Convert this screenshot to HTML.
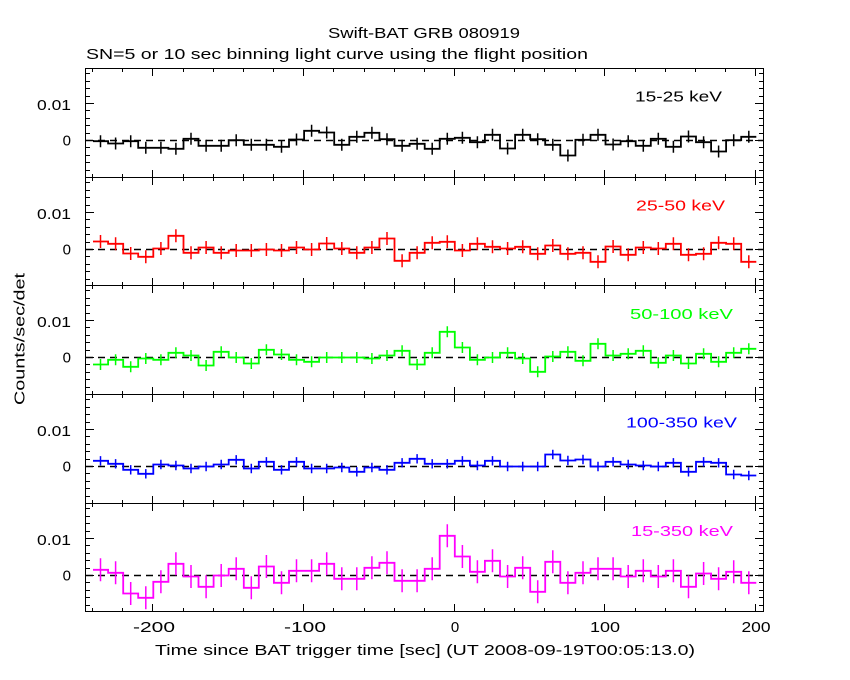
<!DOCTYPE html>
<html>
<head>
<meta charset="utf-8">
<style>
html,body{margin:0;padding:0;background:#fff;}
svg{display:block;}
text{font-family:"Liberation Sans",Arial,sans-serif;font-size:15px;fill:#000;}
</style>
</head>
<body>
<svg width="850" height="680" viewBox="0 0 850 680" xmlns="http://www.w3.org/2000/svg" xmlns:xlink="http://www.w3.org/1999/xlink">
<rect x="0" y="0" width="850" height="680" fill="#fff"/>
<defs>
<path id="tt" d="M92.5,0v4M122.5,0v4M152.5,0v8M183.5,0v4M213.5,0v4M243.5,0v4M273.5,0v4M303.5,0v8M333.5,0v4M364.5,0v4M394.5,0v4M424.5,0v4M454.5,0v8M484.5,0v4M514.5,0v4M544.5,0v4M575.5,0v4M604.5,0v8M635.5,0v4M665.5,0v4M695.5,0v4M725.5,0v4M755.5,0v8" stroke="#000" stroke-width="1" fill="none"/>
<path id="bt" d="M92.5,0v-4M122.5,0v-4M152.5,0v-8M183.5,0v-4M213.5,0v-4M243.5,0v-4M273.5,0v-4M303.5,0v-8M333.5,0v-4M364.5,0v-4M394.5,0v-4M424.5,0v-4M454.5,0v-8M484.5,0v-4M514.5,0v-4M544.5,0v-4M575.5,0v-4M604.5,0v-8M635.5,0v-4M665.5,0v-4M695.5,0v-4M725.5,0v-4M755.5,0v-8" stroke="#000" stroke-width="1" fill="none"/>
<path id="yt" d="M85,5.5h5M85,13.5h5M85,20.5h5M85,28.5h5M85,35.5h9M85,42.5h5M85,50.5h5M85,57.5h5M85,65.5h5M85,72.5h9M85,79.5h5M85,87.5h5M85,94.5h5M85,102.5h5M764,5.5h-5M764,13.5h-5M764,20.5h-5M764,28.5h-5M764,35.5h-9M764,42.5h-5M764,50.5h-5M764,57.5h-5M764,65.5h-5M764,72.5h-9M764,79.5h-5M764,87.5h-5M764,94.5h-5M764,102.5h-5" stroke="#000" stroke-width="1" fill="none"/>
</defs>

<!-- frame -->
<g shape-rendering="crispEdges">
<path d="M85.5,68.5H763.5V611.5H85.5Z M85.5,177.5H763.5 M85.5,285.5H763.5 M85.5,394.5H763.5 M85.5,503.5H763.5" stroke="#000" stroke-width="1" fill="none"/>
<use href="#tt" xlink:href="#tt" y="68"/>
<use href="#tt" xlink:href="#tt" y="177"/>
<use href="#tt" xlink:href="#tt" y="285"/>
<use href="#tt" xlink:href="#tt" y="394"/>
<use href="#tt" xlink:href="#tt" y="503"/>
<use href="#bt" xlink:href="#bt" y="178"/>
<use href="#bt" xlink:href="#bt" y="286"/>
<use href="#bt" xlink:href="#bt" y="395"/>
<use href="#bt" xlink:href="#bt" y="504"/>
<use href="#bt" xlink:href="#bt" y="612"/>
<use href="#yt" xlink:href="#yt" y="68"/>
<use href="#yt" xlink:href="#yt" y="177"/>
<use href="#yt" xlink:href="#yt" y="285"/>
<use href="#yt" xlink:href="#yt" y="394"/>
<use href="#yt" xlink:href="#yt" y="503"/>
</g>

<!-- titles -->
<text x="424" y="38" text-anchor="middle" textLength="192" lengthAdjust="spacingAndGlyphs">Swift-BAT GRB 080919</text>
<text x="86" y="59" textLength="502" lengthAdjust="spacingAndGlyphs">SN=5 or 10 sec binning light curve using the flight position</text>

<!-- y tick labels -->
<text x="71" y="110" text-anchor="end" textLength="34" lengthAdjust="spacingAndGlyphs">0.01</text>
<text x="71" y="145.5" text-anchor="end">0</text>
<text x="71" y="219" text-anchor="end" textLength="34" lengthAdjust="spacingAndGlyphs">0.01</text>
<text x="71" y="254.5" text-anchor="end">0</text>
<text x="71" y="327" text-anchor="end" textLength="34" lengthAdjust="spacingAndGlyphs">0.01</text>
<text x="71" y="362.5" text-anchor="end">0</text>
<text x="71" y="436" text-anchor="end" textLength="34" lengthAdjust="spacingAndGlyphs">0.01</text>
<text x="71" y="471.5" text-anchor="end">0</text>
<text x="71" y="545" text-anchor="end" textLength="34" lengthAdjust="spacingAndGlyphs">0.01</text>
<text x="71" y="580.5" text-anchor="end">0</text>

<!-- x tick labels -->
<text x="154" y="632" text-anchor="middle" textLength="42" lengthAdjust="spacingAndGlyphs">-200</text>
<text x="305" y="632" text-anchor="middle" textLength="42" lengthAdjust="spacingAndGlyphs">-100</text>
<text x="455" y="632" text-anchor="middle">0</text>
<text x="605" y="632" text-anchor="middle" textLength="30" lengthAdjust="spacingAndGlyphs">100</text>
<text x="756" y="632" text-anchor="middle" textLength="29" lengthAdjust="spacingAndGlyphs">200</text>

<text x="155" y="655" textLength="540" lengthAdjust="spacingAndGlyphs">Time since BAT trigger time [sec] (UT 2008-09-19T00:05:13.0)</text>
<text transform="translate(24.5,339) rotate(-90)" x="0" y="0" text-anchor="middle" textLength="132" lengthAdjust="spacingAndGlyphs">Counts/sec/det</text>

<!-- band labels -->
<text x="635" y="101.5" textLength="87" lengthAdjust="spacingAndGlyphs">15-25 keV</text>
<text x="636" y="210.5" textLength="89" lengthAdjust="spacingAndGlyphs" style="fill:#ff0000">25-50 keV</text>
<text x="630" y="319" textLength="103" lengthAdjust="spacingAndGlyphs" style="fill:#00ff00">50-100 keV</text>
<text x="626" y="427.5" textLength="111" lengthAdjust="spacingAndGlyphs" style="fill:#0000ff">100-350 keV</text>
<text x="631" y="536" textLength="102" lengthAdjust="spacingAndGlyphs" style="fill:#ff00ff">15-350 keV</text>

<!-- dashed zero lines -->
<g stroke="#000" stroke-width="1.5" stroke-dasharray="7 5" fill="none">
<path d="M86,140.5H763"/>
<path d="M86,249.5H763"/>
<path d="M86,357.5H763"/>
<path d="M86,466.5H763"/>
<path d="M86,575.5H763"/>
</g>

<!-- panel 1: 15-25 keV -->
<g transform="translate(0,140.5) scale(1,-1)" stroke="#000" stroke-width="1.8" fill="none">
<path d="M93,-0.7H108.1V-3H123.2V-0.7H138.2V-7.3H153.3V-7.3H168.4V-8.3H183.5V1.7H198.5V-5.3H213.6V-5.3H228.7V0.3H243.8V-4.3H258.8V-4.3H273.9V-6.3H289V1H304.1V9.7H319.1V8H334.2V-4.3H349.3V3.7H364.4V7.7H379.4V1.3H394.5V-5.3H409.6V-3.3H424.7V-8.3H439.7V1.7H454.8V2.7H469.9V-1.7H484.9V5.7H500V-8H515.1V5.7H530.2V1.3H545.2V-4.3H560.3V-15H575.4V0.7H590.5V5.7H605.5V-4H620.6V-0.7H635.7V-5.3H650.8V1.7H665.8V-6.3H680.9V4H696V-1.7H711.1V-11H726.1V0.3H741.2V3.7H756.3"/>
<path stroke-width="1.5" d="M100.5,-6.7v12M115.6,-9v12M130.7,-6.7v12M145.8,-13.3v12M160.9,-13.3v12M175.9,-14.3v12M191,-4.3v12M206.1,-11.3v12M221.2,-11.3v12M236.2,-5.7v12M251.3,-10.3v12M266.4,-10.3v12M281.5,-12.3v12M296.5,-5v12M311.6,3.7v12M326.7,2v12M341.8,-10.3v12M356.8,-2.3v12M371.9,1.7v12M387,-4.7v12M402.1,-11.3v12M417.1,-9.3v12M432.2,-14.3v12M447.3,-4.3v12M462.4,-3.3v12M477.4,-7.7v12M492.5,-0.3v12M507.6,-14v12M522.7,-0.3v12M537.7,-4.7v12M552.8,-10.3v12M567.9,-21v12M583,-5.3v12M598,-0.3v12M613.1,-10v12M628.2,-6.7v12M643.3,-11.3v12M658.3,-4.3v12M673.4,-12.3v12M688.5,-2v12M703.6,-7.7v12M718.6,-17v12M733.7,-5.7v12M748.8,-2.3v12"/>
</g>

<!-- panel 2: 25-50 keV -->
<g transform="translate(0,249.5) scale(1,-1)" stroke="#ff0000" stroke-width="1.8" fill="none">
<path d="M93,8H108.1V5.7H123.2V-4H138.2V-7.3H153.3V1H168.4V13.7H183.5V-3.3H198.5V2H213.6V-3.3H228.7V-1H243.8V-1H258.8V0H273.9V-1H289V2H304.1V0H319.1V6H334.2V1H349.3V-3.3H364.4V2H379.4V11H394.5V-11.3H409.6V-3.3H424.7V6.7H439.7V7.7H454.8V-1H469.9V5.7H484.9V2.7H500V1H515.1V2.7H530.2V-4.3H545.2V4H560.3V-4.3H575.4V-3.3H590.5V-12.3H605.5V3H620.6V-5.3H635.7V2H650.8V1H665.8V5.7H680.9V-5.3H696V-4.3H711.1V6.7H726.1V5.7H741.2V-12.3H756.3"/>
<path stroke-width="1.5" d="M100.5,1.5v13M115.6,-0.8v13M130.7,-10.5v13M145.8,-13.8v13M160.9,-5.5v13M175.9,7.2v13M191,-9.8v13M206.1,-4.5v13M221.2,-9.8v13M236.2,-7.5v13M251.3,-7.5v13M266.4,-6.5v13M281.5,-7.5v13M296.5,-4.5v13M311.6,-6.5v13M326.7,-0.5v13M341.8,-5.5v13M356.8,-9.8v13M371.9,-4.5v13M387,4.5v13M402.1,-17.8v13M417.1,-9.8v13M432.2,0.2v13M447.3,1.2v13M462.4,-7.5v13M477.4,-0.8v13M492.5,-3.8v13M507.6,-5.5v13M522.7,-3.8v13M537.7,-10.8v13M552.8,-2.5v13M567.9,-10.8v13M583,-9.8v13M598,-18.8v13M613.1,-3.5v13M628.2,-11.8v13M643.3,-4.5v13M658.3,-5.5v13M673.4,-0.8v13M688.5,-11.8v13M703.6,-10.8v13M718.6,0.2v13M733.7,-0.8v13M748.8,-18.8v13"/>
</g>

<!-- panel 3: 50-100 keV -->
<g transform="translate(0,357.5) scale(1,-1)" stroke="#00ff00" stroke-width="1.8" fill="none">
<path d="M93,-7H108.1V-2.3H123.2V-9.3H138.2V-1H153.3V-2.3H168.4V4.7H183.5V2H198.5V-8H213.6V5.7H228.7V0H243.8V-6H258.8V7.7H273.9V3H289V-2.3H304.1V-4.3H319.1V0H334.2V0H349.3V0H364.4V-1H379.4V2H394.5V6.7H409.6V-7H424.7V4.7H439.7V25.7H454.8V10H469.9V-2.3H484.9V0H500V4.7H515.1V-1H530.2V-14.3H545.2V1H560.3V5.7H575.4V-3.3H590.5V13.7H605.5V2H620.6V3.7H635.7V6.7H650.8V-5.3H665.8V2H680.9V-6H696V3.7H711.1V-4.3H726.1V4.7H741.2V8.7H756.3"/>
<path stroke-width="1.5" d="M100.5,-12.5v11M115.6,-7.8v11M130.7,-14.8v11M145.8,-6.5v11M160.9,-7.8v11M175.9,-0.8v11M191,-3.5v11M206.1,-13.5v11M221.2,0.2v11M236.2,-5.5v11M251.3,-11.5v11M266.4,2.2v11M281.5,-2.5v11M296.5,-7.8v11M311.6,-9.8v11M326.7,-5.5v11M341.8,-5.5v11M356.8,-5.5v11M371.9,-6.5v11M387,-3.5v11M402.1,1.2v11M417.1,-12.5v11M432.2,-0.8v11M447.3,20.2v11M462.4,4.5v11M477.4,-7.8v11M492.5,-5.5v11M507.6,-0.8v11M522.7,-6.5v11M537.7,-19.8v11M552.8,-4.5v11M567.9,0.2v11M583,-8.8v11M598,8.2v11M613.1,-3.5v11M628.2,-1.8v11M643.3,1.2v11M658.3,-10.8v11M673.4,-3.5v11M688.5,-11.5v11M703.6,-1.8v11M718.6,-9.8v11M733.7,-0.8v11M748.8,3.2v11"/>
</g>

<!-- panel 4: 100-350 keV -->
<g transform="translate(0,466.5) scale(1,-1)" stroke="#0000ff" stroke-width="1.8" fill="none">
<path d="M93,5.7H108.1V2.7H123.2V-3.3H138.2V-7.3H153.3V2H168.4V1H183.5V-2H198.5V0H213.6V2H228.7V6.7H243.8V-2H258.8V4.7H273.9V-3.3H289V4.7H304.1V-2H319.1V-2H334.2V-1H349.3V-5.3H364.4V-1H379.4V-3.3H394.5V3.7H409.6V7.7H424.7V2.7H439.7V2.7H454.8V5.7H469.9V1H484.9V5.7H500V0H515.1V0H530.2V0H545.2V12H560.3V6H575.4V7H590.5V0H605.5V4.7H620.6V2H635.7V1H650.8V0H665.8V3.7H680.9V-5.3H696V4.7H711.1V3.7H726.1V-8H741.2V-9H756.3"/>
<path stroke-width="1.5" d="M100.5,1v9.4M115.6,-2v9.4M130.7,-8v9.4M145.8,-12v9.4M160.9,-2.7v9.4M175.9,-3.7v9.4M191,-6.7v9.4M206.1,-4.7v9.4M221.2,-2.7v9.4M236.2,2v9.4M251.3,-6.7v9.4M266.4,0v9.4M281.5,-8v9.4M296.5,0v9.4M311.6,-6.7v9.4M326.7,-6.7v9.4M341.8,-5.7v9.4M356.8,-10v9.4M371.9,-5.7v9.4M387,-8v9.4M402.1,-1v9.4M417.1,3v9.4M432.2,-2v9.4M447.3,-2v9.4M462.4,1v9.4M477.4,-3.7v9.4M492.5,1v9.4M507.6,-4.7v9.4M522.7,-4.7v9.4M537.7,-4.7v9.4M552.8,7.3v9.4M567.9,1.3v9.4M583,2.3v9.4M598,-4.7v9.4M613.1,0v9.4M628.2,-2.7v9.4M643.3,-3.7v9.4M658.3,-4.7v9.4M673.4,-1v9.4M688.5,-10v9.4M703.6,0v9.4M718.6,-1v9.4M733.7,-12.7v9.4M748.8,-13.7v9.4"/>
</g>

<!-- panel 5: 15-350 keV -->
<g transform="translate(0,575.5) scale(1,-1)" stroke="#ff00ff" stroke-width="1.8" fill="none">
<path d="M93,5.7H108.1V2.7H123.2V-18H138.2V-22.3H153.3V-6.3H168.4V11.7H183.5V-1H198.5V-11.3H213.6V0H228.7V6.7H243.8V-12.3H258.8V9H273.9V-7.3H289V4.7H304.1V4.7H319.1V11.7H334.2V-3.3H349.3V-3.3H364.4V7.7H379.4V12.7H394.5V-5.3H409.6V-5.3H424.7V6.7H439.7V39.7H454.8V19H469.9V3.7H484.9V14.7H500V-1H515.1V7.7H530.2V-16.3H545.2V13.7H560.3V-7.3H575.4V2.7H590.5V6.7H605.5V6.7H620.6V-1H635.7V4.7H650.8V-1H665.8V4.7H680.9V-11.3H696V2H711.1V-3.3H726.1V3.7H741.2V-7.3H756.3"/>
<path stroke-width="1.5" d="M100.5,-5.8v23M115.6,-8.8v23M130.7,-29.5v23M145.8,-33.8v23M160.9,-17.8v23M175.9,0.2v23M191,-12.5v23M206.1,-22.8v23M221.2,-11.5v23M236.2,-4.8v23M251.3,-23.8v23M266.4,-2.5v23M281.5,-18.8v23M296.5,-6.8v23M311.6,-6.8v23M326.7,0.2v23M341.8,-14.8v23M356.8,-14.8v23M371.9,-3.8v23M387,1.2v23M402.1,-16.8v23M417.1,-16.8v23M432.2,-4.8v23M447.3,28.2v23M462.4,7.5v23M477.4,-7.8v23M492.5,3.2v23M507.6,-12.5v23M522.7,-3.8v23M537.7,-27.8v23M552.8,2.2v23M567.9,-18.8v23M583,-8.8v23M598,-4.8v23M613.1,-4.8v23M628.2,-12.5v23M643.3,-6.8v23M658.3,-12.5v23M673.4,-6.8v23M688.5,-22.8v23M703.6,-9.5v23M718.6,-14.8v23M733.7,-7.8v23M748.8,-18.8v23"/>
</g>
</svg>
</body>
</html>
